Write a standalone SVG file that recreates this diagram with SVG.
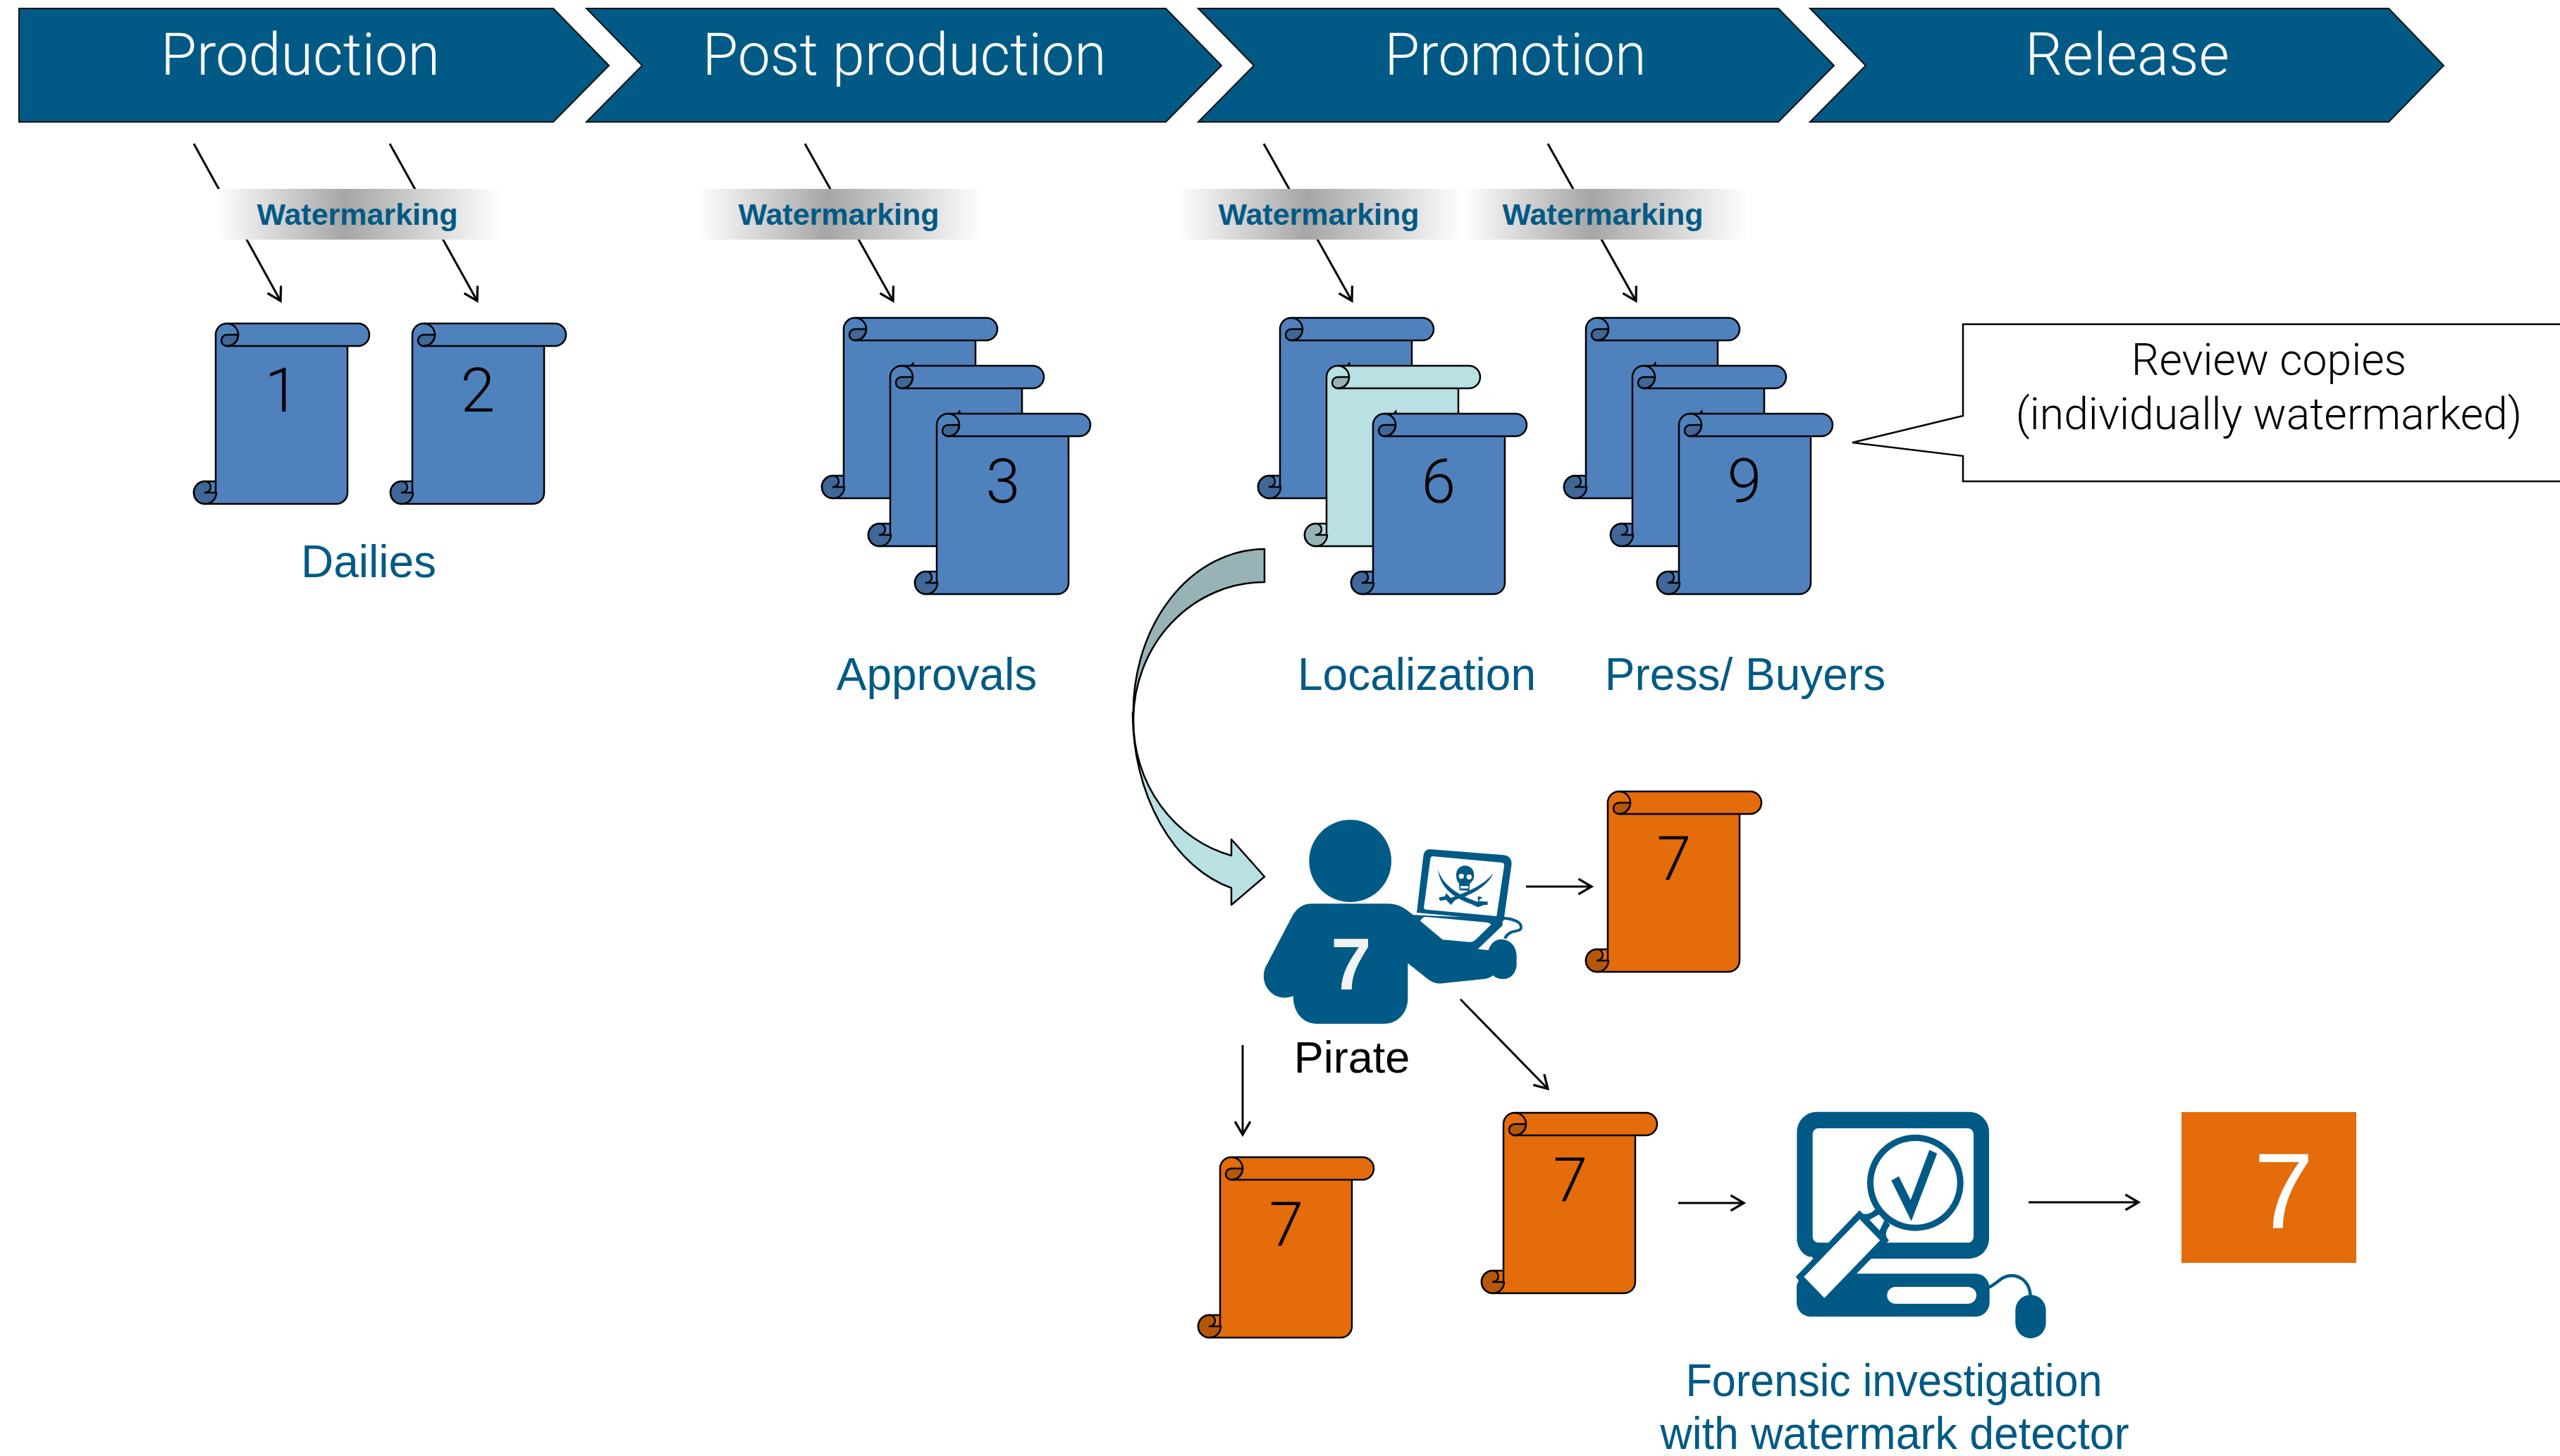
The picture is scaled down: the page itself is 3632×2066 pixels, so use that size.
<svg xmlns="http://www.w3.org/2000/svg" xmlns:xlink="http://www.w3.org/1999/xlink" width="3632" height="2066" viewBox="0 0 3632 2066">
<style>
text{font-family:"Liberation Sans",Arial,sans-serif;text-anchor:middle}
.thin{font-family:Roboto,"Liberation Sans",sans-serif;font-weight:300}
.chev{fill:#005a85;stroke:#111;stroke-width:2}
.ct{font-size:83px;fill:#fff}
.wm{font-size:43px;font-weight:700;fill:#005a85}
.num{font-size:88px;fill:#000}
.lab{font-size:64px;fill:#005a85}
.rev{font-size:62.5px;fill:#000}
.blue{--m:#4f81bd;--d:#3f6797}
.teal{--m:#b9e0e3;--d:#95b3b5}
.orange{--m:#e46c0a;--d:#b65708}
.m{fill:var(--m);stroke:#000;stroke-width:2.5;stroke-linejoin:round}
.d{fill:var(--d);stroke:#000;stroke-width:2.5;stroke-linejoin:round}
.a{fill:none;stroke:#000;stroke-width:2.5}
.arrow{fill:none;stroke:#000;stroke-width:3;marker-end:url(#head)}
.ico{fill:#005a85}
.wh{fill:#fff}
</style>
<defs>
<marker id="head" markerUnits="userSpaceOnUse" markerWidth="24" markerHeight="24" refX="18" refY="11" orient="auto" viewBox="0 0 22 22"><path d="M1,1 L18,11 L1,21" fill="none" stroke="#000" stroke-width="3"/></marker>
<linearGradient id="wmg" x1="0" x2="1" y1="0" y2="0"><stop offset="0" stop-color="#fff"/><stop offset=".45" stop-color="#a6a6a6"/><stop offset="1" stop-color="#fff"/></linearGradient>
<g id="scroll">
<path class="m" d="M0,16 a16,16 0 0 1 16,-16 H202 a16,16 0 0 1 0,32 H187 V240 a16,16 0 0 1 -16,16 H-15 a16,16 0 0 1 0,-32 H0 Z"/>
<path class="a" d="M16,32 H187"/>
<path class="d" d="M32,16 H16 a8,8 0 0 0 0,16 a16,16 0 0 0 16,-16 Z"/>
<path class="a" d="M16,0 a16,16 0 0 1 0,32"/>
<path class="d" d="M-15,256 a16,16 0 0 1 0,-32 a8,8 0 0 1 0,16 H1 a16,16 0 0 1 -16,16 Z"/>
<path class="a" d="M0,224 V240"/>
</g>
<path id="tick" d="M28,0 L33,-6 L34,0 Z" fill="#000"/>
<rect id="wmbar" width="405" height="72" fill="url(#wmg)"/>
</defs>

<g id="connectors">
<path class="arrow" d="M275,204 L398,427"/>
<path class="arrow" d="M553,204 L677,427"/>
<path class="arrow" d="M1142,204 L1267,427"/>
<path class="arrow" d="M1793,204 L1918,427"/>
<path class="arrow" d="M2196,204 L2321,427"/>
<path class="arrow" d="M2165,1258 H2258"/>
<path class="arrow" d="M2072,1418 L2196,1545"/>
<path class="arrow" d="M1763,1483 V1610"/>
<path class="arrow" d="M2381,1707 H2474"/>
<path class="arrow" d="M2878,1706 H3034"/>
</g>

<g id="phase-production"><path class="chev" d="M27,12 H785 L864,93 L785,173 H27 Z"/><text class="ct thin" x="426" y="106" textLength="396" lengthAdjust="spacingAndGlyphs">Production</text></g>
<g id="phase-post"><path class="chev" d="M832,12 H1654 L1733,93 L1654,173 H832 L911,93 Z"/><text class="ct thin" x="1283" y="106" textLength="573" lengthAdjust="spacingAndGlyphs">Post production</text></g>
<g id="phase-promotion"><path class="chev" d="M1700,12 H2523 L2602,93 L2523,173 H1700 L1779,93 Z"/><text class="ct thin" x="2150" y="106" textLength="371" lengthAdjust="spacingAndGlyphs">Promotion</text></g>
<g id="phase-release"><path class="chev" d="M2568,12 H3389 L3467,93 L3389,173 H2568 L2647,93 Z"/><text class="ct thin" x="3018" y="106" textLength="290" lengthAdjust="spacingAndGlyphs">Release</text></g>

<g id="wm1"><use href="#wmbar" x="307" y="268"/><text class="wm" x="507" y="319">Watermarking</text></g>
<g id="wm2"><use href="#wmbar" x="991" y="268"/><text class="wm" x="1190" y="319">Watermarking</text></g>
<g id="wm3"><use href="#wmbar" x="1672" y="268"/><text class="wm" x="1871" y="319">Watermarking</text></g>
<g id="wm4"><use href="#wmbar" x="2075" y="268"/><text class="wm" x="2274" y="319">Watermarking</text></g>

<g id="scroll-1" class="blue"><use href="#scroll" x="306" y="459"/><text class="num thin" x="400" y="584">1</text></g>
<g id="scroll-2" class="blue"><use href="#scroll" x="585" y="459"/><text class="num thin" x="678" y="584">2</text></g>
<g id="dailies-label"><text class="lab" x="523" y="819">Dailies</text></g>

<g id="stack-approvals" class="blue">
<use href="#scroll" x="1197" y="451"/>
<use href="#tick" x="1263" y="519"/><use href="#scroll" x="1263" y="519"/>
<use href="#tick" x="1329" y="587"/><use href="#scroll" x="1329" y="587"/>
<text class="num thin" x="1423" y="713">3</text>
</g>
<g id="approvals-label"><text class="lab" x="1329" y="979">Approvals</text></g>

<g id="stack-localization">
<use class="blue" href="#scroll" x="1816" y="451"/>
<use href="#tick" x="1882" y="519"/><use class="teal" href="#scroll" x="1882" y="519"/>
<use href="#tick" x="1948" y="587"/><use class="blue" href="#scroll" x="1948" y="587"/>
<text class="num thin" x="2041" y="713">6</text>
</g>
<g id="localization-label"><text class="lab" x="2010" y="979">Localization</text></g>

<g id="stack-press" class="blue">
<use href="#scroll" x="2250" y="451"/>
<use href="#tick" x="2316" y="519"/><use href="#scroll" x="2316" y="519"/>
<use href="#tick" x="2382" y="587"/><use href="#scroll" x="2382" y="587"/>
<text class="num thin" x="2475" y="713">9</text>
</g>
<g id="press-label"><text class="lab" x="2476" y="979">Press/ Buyers</text></g>

<g id="callout">
<path d="M2785,460 H3640 V683 H2785 V647 L2628,628 L2785,590 Z" fill="#fff" stroke="#000" stroke-width="2.5"/>
<text class="rev thin" x="3219" y="532">Review copies</text>
<text class="rev thin" x="3219" y="609">(individually watermarked)</text>
</g>

<g id="curved-arrow" stroke="#000" stroke-width="2.5" stroke-linejoin="round">
<path fill="#97b3b5" d="M1794,779 V826 A186,196 0 0 0 1608,1022 A187,232 0 0 1 1794,779 Z"/>
<path fill="#b9e0e3" d="M1607,1011 A187,257 0 0 0 1747,1260 V1284 L1794,1244 L1747,1191 V1214 A186,198 0 0 1 1608,1022 Q1607,1016 1607,1011 Z"/>
</g>

<g id="pirate">
<g transform="translate(1750,1130) scale(.33333)">
<circle class="ico" cx="497" cy="275" r="175"/>
<path class="ico" d="M335,457 H655 C695,457 720,470 745,490 L765,505 L1145,520 L1145,550 L1040,650 L1085,655 C1095,625 1115,608 1140,608 C1180,610 1205,640 1205,680 V715 C1205,750 1180,778 1150,778 C1130,778 1115,772 1105,762 C1095,770 1085,775 1070,777 L890,796 C870,798 850,795 830,780 L742,710 V860 C742,920 700,968 640,968 H355 C295,968 254,920 254,850 C215,865 175,855 150,825 C125,795 122,750 140,720 L250,510 C270,475 295,457 335,457 Z"/>
<path class="wh" d="M795,530 L890,610 L1005,620 Q1020,620 1033,608 L1097,545 Q1090,538 1075,536 L820,513 Q805,512 795,530 Z"/>
<path class="ico" d="M835,225 L1150,250 Q1188,255 1183,295 L1150,530 L780,495 L808,255 Q812,225 835,225 Z"/>
<path class="wh" d="M848,255 L1142,282 Q1155,284 1152,297 L1120,510 L820,482 Q808,480 811,468 L838,266 Q840,255 848,255 Z"/>
<path d="M1145,518 C1190,520 1228,535 1224,560 C1218,582 1175,562 1155,605" fill="none" stroke="#005a85" stroke-width="12"/>
<path class="ico" d="M870,312 C890,375 950,420 1048,452 L1068,462 L1040,472 L1015,460 C945,435 880,395 870,312 Z"/>
<path class="ico" d="M1105,328 C1085,380 1015,420 945,440 L925,462 L905,440 L878,445 L875,430 L900,425 L905,412 L925,432 C985,410 1060,385 1105,328 Z"/>
<path class="ico" d="M1040,425 L1060,430 L1042,445 L1065,448 L1082,448 L1082,462 L1060,462 L1040,460 Z"/>
<path class="ico" d="M985,295 C1010,295 1026,315 1024,340 C1022,360 1012,365 1006,372 L1004,402 L962,400 L960,370 C950,362 948,345 948,330 C950,310 965,295 985,295 Z"/>
<circle class="wh" cx="970" cy="340" r="11"/><circle class="wh" cx="1003" cy="343" r="11"/>
<path class="wh" d="M966,382 H1000 V392 H966 Z"/>
</g>
<text x="1917" y="1404" font-size="103" font-weight="700" fill="#f2f2f2">7</text>
<text x="1918" y="1522" font-size="63" fill="#000">Pirate</text>
</g>

<g id="scroll-7a" class="orange"><use href="#scroll" x="2281" y="1123"/><text class="num thin" x="2375" y="1249">7</text></g>
<g id="scroll-7b" class="orange"><use href="#scroll" x="2133" y="1579"/><text class="num thin" x="2228" y="1705">7</text></g>
<g id="scroll-7c" class="orange"><use href="#scroll" x="1731" y="1642"/><text class="num thin" x="1825" y="1768">7</text></g>

<g id="detector">
<g transform="translate(2500,1550) scale(.33333)">
<rect class="ico" x="148" y="83" width="818" height="625" rx="85"/>
<rect class="wh" x="215" y="153" width="685" height="487" rx="25"/>
<path class="wh" d="M150,708 H500 V772 H150 Z"/>
<rect class="ico" x="147" y="772" width="821" height="183" rx="60"/>
<path class="wh" d="M100,700 H215 L143,785 L150,810 H100 Z"/>
<rect class="wh" x="532" y="828" width="380" height="72" rx="36"/>
<rect class="ico" x="1078" y="862" width="130" height="185" rx="65"/>
<path d="M965,830 C1000,815 1020,780 1060,780 C1110,780 1140,820 1142,865" fill="none" stroke="#005a85" stroke-width="13"/>
<path class="ico" d="M143,785 L415,502 L428,516 C445,522 465,515 482,497 L545,565 C525,590 520,610 540,630 L402,772 L265,900 L155,800 Z"/>
<circle class="ico" cx="652" cy="385" r="205"/>
<circle class="wh" cx="652" cy="385" r="178"/>
<path class="ico" d="M550,375 L582,358 L632,458 L712,245 L745,260 L635,548 Z"/>
<path class="wh" d="M415,540 L502,630 L265,875 L178,785 Z"/>
<path class="wh" d="M457,543 L497,520 L520,545 L500,588 Z"/>
</g>
</g>
<g id="forensic-label">
<text class="lab" x="2687" y="1981" textLength="591" lengthAdjust="spacingAndGlyphs">Forensic investigation</text>
<text class="lab" x="2688" y="2056" textLength="665" lengthAdjust="spacingAndGlyphs">with watermark detector</text>
</g>

<g id="result-7">
<rect x="3095" y="1578" width="248" height="214" fill="#e46c0a"/>
<text x="3240" y="1742" font-size="152" fill="#fff">7</text>
</g>
</svg>
